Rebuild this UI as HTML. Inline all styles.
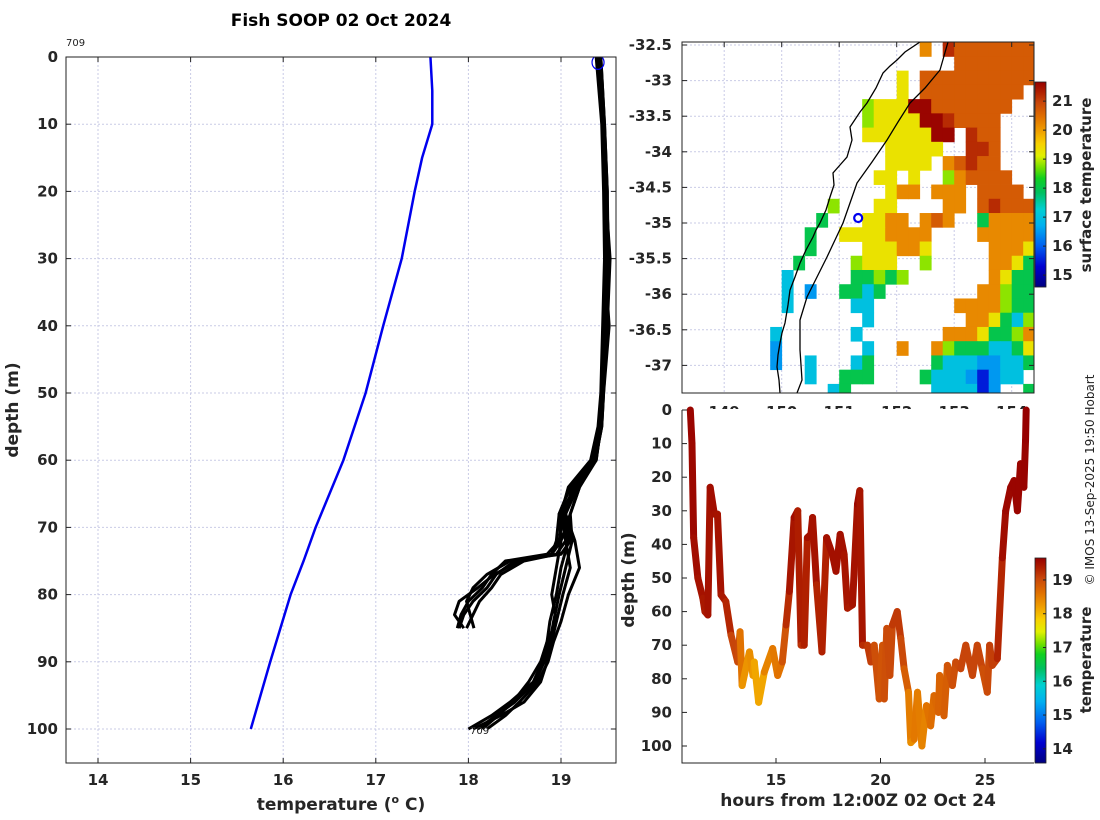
<!DOCTYPE html>
<html><head><meta charset="utf-8">
<style>
html,body{margin:0;padding:0;background:#fff;}
svg{display:block;font-family:"DejaVu Sans","Liberation Sans",sans-serif;}
.tk{font-size:15px;font-weight:bold;fill:#262626;}
.lb{font-size:17px;font-weight:bold;fill:#262626;}
</style></head>
<body>
<svg id="fig" width="1100" height="820" viewBox="0 0 1100 820" xmlns="http://www.w3.org/2000/svg">
<defs>
<clipPath id="clipL"><rect x="66" y="57" width="550" height="706"/></clipPath>
<clipPath id="clipM"><rect x="682" y="42" width="352" height="351"/></clipPath>
<clipPath id="clipB"><rect x="682" y="404" width="352" height="359"/></clipPath>
</defs>
<text x="341" y="26" text-anchor="middle" font-size="17" font-weight="bold" fill="#000">Fish SOOP 02 Oct 2024</text>
<g id="left"></g>
<g id="map"></g>
<g id="bottom"></g>
<text transform="translate(1094,480) rotate(-90)" text-anchor="middle" font-size="12" fill="#222">© IMOS 13-Sep-2025 19:50 Hobart</text>
</svg>
<script>
// ---------- LEFT PROFILE DATA ----------
const profTicksX = [14,15,16,17,18,19];
const profTicksY = [0,10,20,30,40,50,60,70,80,90,100];
const climDepth = [0,5,10,15,20,30,40,50,60,70,75,80,90,100];
const climTemp  = [17.59,17.61,17.61,17.5,17.42,17.28,17.08,16.89,16.65,16.35,16.22,16.08,15.86,15.65];
const depthsA = [0,10,20,30,40,50,55,60,64,68,72,74,75,77,79,81,83,85];
const profA1 = [19.40,19.45,19.47,19.48,19.46,19.44,19.42,19.35,19.10,18.98,18.95,18.90,18.50,18.30,18.20,18.05,17.95,17.90];
const profA2 = [19.42,19.46,19.48,19.50,19.47,19.45,19.43,19.38,19.15,19.02,18.98,18.85,18.40,18.25,18.15,18.00,17.92,17.88];
const profA3 = [19.38,19.44,19.46,19.47,19.45,19.43,19.40,19.32,19.08,19.00,19.05,18.95,18.60,18.35,18.25,18.12,18.05,17.98];
const profA4 = [19.41,19.46,19.49,19.52,19.50,19.46,19.44,19.37,19.20,19.10,19.00,18.90,18.55,18.28,18.10,17.90,17.85,17.95];
const profA5 = [19.43,19.47,19.50,19.49,19.46,19.44,19.41,19.33,19.12,19.05,19.10,19.00,18.45,18.20,18.05,17.98,18.02,18.06];
const depthsB = [0,10,20,30,40,50,55,60,64,68,72,76,80,84,87,90,93,96,98,100];
const profB1 = [19.40,19.45,19.47,19.48,19.46,19.44,19.42,19.36,19.15,19.00,19.05,19.10,19.02,18.95,18.90,18.85,18.78,18.60,18.35,18.05];
const profB2 = [19.42,19.46,19.48,19.53,19.50,19.45,19.43,19.38,19.20,19.10,19.12,19.05,18.98,18.92,18.88,18.82,18.72,18.50,18.30,18.10];
const profB3 = [19.39,19.45,19.47,19.50,19.48,19.44,19.41,19.34,19.10,18.98,19.00,18.95,18.90,18.95,18.85,18.80,18.70,18.45,18.25,18.00];
const profB4 = [19.41,19.46,19.49,19.47,19.52,19.46,19.44,19.37,19.18,19.05,19.15,19.20,19.08,19.00,18.92,18.86,18.75,18.55,18.40,18.20];
const profB5 = [19.43,19.47,19.50,19.51,19.49,19.45,19.42,19.35,19.14,19.02,19.08,19.00,18.95,18.88,18.85,18.78,18.65,18.48,18.32,18.15];
const startMarker = [19.40, 0.8];

// ---------- MAP DATA ----------
const mapLatTicks = [-32.5,-33,-33.5,-34,-34.5,-35,-35.5,-36,-36.5,-37];
const mapLonTicks = [149,150,151,152,153,154];
const sstBarTicks = [15,16,17,18,19,20,21];
const sstCodes = {a:15.5,b:16.5,c:17.0,d:18.0,e:18.8,f:19.3,g:20.2,h:20.7,i:21.2,j:21.6};
const sstRows = [
".............g.ihhhhhhh",
"................hhhhhhh",
"...........f.hhhhhhhhhh",
"...........f.hhhhhhhhh.",
"........efffjjhhhhhhh..",
"........effffjjihhhh...",
"........ffffffjj.ihh...",
"..........fffff..iih...",
"..........ffff.ghihh...",
".........ff.f..eghhhh..",
"..........fgg.ggg.hhhh.",
".....e...ff....gg.hihhh",
"....d...ffgg.ghg..dgggg",
"...d..ffffgggg....ggggg",
"...d....fffggf.....gggf",
"..d....efff..e.....ggfd",
".c.....ddede.......gfdd",
".c.b..ddcd........ggedd",
".c.....cc.......ggggedd",
"........c........ggfdce",
"c......c.......gggfddeg",
"b.......c..g..gedddccdf",
"b..c...cd.....dcccbbccd",
"...c..ddd....dcccbabcc.",
".....cd.......ccccab..d"
];
const shipPos = [151.33, -34.93];

// ---------- BOTTOM DATA ----------
const hourTicks = [15,20,25];
const depthTicksB = [0,10,20,30,40,50,60,70,80,90,100];
const tempBarTicks = [14,15,16,17,18,19];
const trackHours = [10.9,10.98,11.06,11.26,11.5,11.6,11.74,11.85,12.05,12.2,12.37,12.6,12.85,13.17,13.28,13.38,13.73,13.9,13.96,14.17,14.44,14.84,15.08,15.3,15.48,15.64,15.87,16.04,16.2,16.35,16.5,16.67,16.75,16.94,17.2,17.42,17.7,17.87,18.07,18.26,18.42,18.66,18.9,19.01,19.14,19.38,19.54,19.7,19.94,20.1,20.18,20.3,20.45,20.57,20.8,20.97,21.13,21.34,21.45,21.61,21.77,21.98,22.2,22.4,22.56,22.77,22.83,23.04,23.2,23.44,23.6,23.84,24.08,24.4,24.63,24.87,25.11,25.22,25.35,25.59,25.83,25.99,26.23,26.39,26.55,26.7,26.86,26.94,26.97];
const trackDepths = [0,10,38,50,56,60,61,23,31,31,55,57,67,75,66,82,72,79,75,87,78,71,79,75,64,54,32,30,70,70,38,37,32,52,72,38,43,48,37,43,59,58,28,24,70,70,75,70,86,70,86,65,79,64,60,68,77,84,99,98,84,100,88,94,85,90,79,91,76,82,75,77,70,79,70,77,84,70,76,74,44,30,23,21,30,16,23,9,0];
const trackTemps = [19.6,19.6,19.55,19.5,19.45,19.4,19.4,19.55,19.5,19.5,19.45,19.4,19.2,18.9,19.1,18.1,18.5,18.2,18.3,18.0,18.3,18.6,18.5,18.7,19.1,19.4,19.5,19.55,19.2,19.2,19.5,19.5,19.5,19.45,19.2,19.5,19.5,19.5,19.5,19.5,19.4,19.4,19.55,19.6,19.3,19.2,19.1,19.1,18.8,19.0,18.8,19.1,18.9,19.1,19.2,19.1,18.9,18.7,18.3,18.4,18.7,18.3,18.6,18.6,18.7,18.7,18.8,18.7,18.9,18.9,19.0,19.0,19.1,19.0,19.1,19.0,18.9,19.1,19.1,19.1,19.5,19.55,19.6,19.6,19.6,19.6,19.6,19.65,19.65];

// ---------- helpers ----------
const NS = "http://www.w3.org/2000/svg";
function mk(parent, tag, attrs, text){
  const e = document.createElementNS(NS, tag);
  for (const k in attrs) e.setAttribute(k, attrs[k]);
  if (text !== undefined) e.textContent = text;
  parent.appendChild(e);
  return e;
}
const stops = [[0,[0,0,128]],[0.1,[0,0,208]],[0.2,[0,96,240]],[0.3,[0,176,240]],[0.38,[0,208,208]],[0.46,[0,192,96]],[0.53,[16,208,32]],[0.58,[112,224,0]],[0.64,[224,240,0]],[0.7,[248,208,0]],[0.76,[240,160,0]],[0.83,[224,112,0]],[0.9,[200,70,10]],[0.95,[176,32,0]],[1,[150,0,0]]];
function cmap(f){
  f = Math.max(0, Math.min(1, f));
  for (let i=1;i<stops.length;i++){
    if (f <= stops[i][0]){
      const a=stops[i-1], b=stops[i], t=(f-a[0])/(b[0]-a[0]);
      const c=a[1].map((v,j)=>Math.round(v+(b[1][j]-v)*t));
      return `rgb(${c[0]},${c[1]},${c[2]})`;
    }
  }
  return "rgb(150,0,0)";
}
const gridStroke = "#c9cbe6";

// ================= LEFT =================
(function(){
  const g = document.getElementById('left');
  const X0=66, X1=616, Y0=57, Y1=763;
  const xT = t => 98 + (t-14)*92.6;
  const yD = d => 57 + d*6.72;
  const grid = mk(g,'g',{});
  
  
  profTicksX.forEach(t=>{
    const l = mk(grid,'line',{x1:xT(t),x2:xT(t),y1:Y0,y2:Y1,stroke:gridStroke,'stroke-width':1,'stroke-dasharray':'2,2'});
    
    
    const tk = mk(g,'text',{x:xT(t),y:785,'text-anchor':'middle',class:'tk'},String(t));
    
    
    mk(g,'line',{x1:xT(t),x2:xT(t),y1:Y1,y2:Y1-5,stroke:'#222'});
    mk(g,'line',{x1:xT(t),x2:xT(t),y1:Y0,y2:Y0+5,stroke:'#222'});
  });
  profTicksY.forEach(d=>{
    const l = mk(grid,'line',{x1:X0,x2:X1,y1:yD(d),y2:yD(d),stroke:gridStroke,'stroke-width':1,'stroke-dasharray':'2,2'});
    
    
    const tk = mk(g,'text',{x:58,y:yD(d)+5,'text-anchor':'end',class:'tk'},String(d));
    
    
    mk(g,'line',{x1:X0,x2:X0+5,y1:yD(d),y2:yD(d),stroke:'#222'});
    mk(g,'line',{x1:X1,x2:X1-5,y1:yD(d),y2:yD(d),stroke:'#222'});
  });
  const plot = mk(g,'g',{'clip-path':'url(#clipL)'});
  const clim = mk(plot,'polyline',{points:climDepth.map((d,i)=>xT(climTemp[i])+','+yD(d)).join(' '),fill:'none',stroke:'#0000ee','stroke-width':2.5});
  
  
  const drawProf = (temps, depths)=>{
    const p = mk(plot,'polyline',{points:depths.map((d,i)=>xT(temps[i])+','+yD(d)).join(' '),fill:'none',stroke:'#000','stroke-width':3,'stroke-linejoin':'round'});
    
    
  };
  [profA1,profA2,profA3,profA4,profA5].forEach(p=>drawProf(p,depthsA));
  [profB1,profB2,profB3,profB4,profB5].forEach(p=>drawProf(p,depthsB));
  const c = mk(plot,'ellipse',{cx:xT(startMarker[0]),cy:yD(startMarker[1]),rx:6,ry:7,fill:'none',stroke:'#0000ee','stroke-width':1.2});
  
  
  const box = mk(g,'rect',{x:X0,y:Y0,width:X1-X0,height:Y1-Y0,fill:'none',stroke:'#222','stroke-width':1});
  
  
  const a = mk(g,'text',{x:66,y:46,'font-size':10,fill:'#222'},'709');
  
  
  const b = mk(g,'text',{x:470,y:734,'font-size':10,fill:'#222'},'709');
  
  
  const xl = mk(g,'text',{x:341,y:810,'text-anchor':'middle',class:'lb'});
  xl.innerHTML = 'temperature (<tspan font-size="11" dy="-7">o</tspan><tspan dy="7"> C)</tspan>';
  
  
  const yl = mk(g,'text',{transform:'translate(18,410) rotate(-90)','text-anchor':'middle',class:'lb'},'depth (m)');
  
  
})();

// ================= MAP =================
(function(){
  const g = document.getElementById('map');
  const X0=682, X1=1034, Y0=42, Y1=393;
  const xL = l => 781.7 + (l-150)*57.5;
  const yA = a => 45 + (-32.5-a)*71.2;
  const vmin=14.59, vmax=21.66;
  mapLonTicks.forEach(l=>{
    const t = mk(g,'text',{x:xL(l),y:417,'text-anchor':'middle',class:'tk'},String(l));
    
    
  });
  const plot = mk(g,'g',{'clip-path':'url(#clipM)'});
  mapLonTicks.forEach(l=>{
    const ln = mk(plot,'line',{x1:xL(l),x2:xL(l),y1:Y0,y2:Y1,stroke:gridStroke,'stroke-dasharray':'2,2'});
    
    
  });
  mapLatTicks.forEach(a=>{
    const ln = mk(plot,'line',{x1:X0,x2:X1,y1:yA(a),y2:yA(a),stroke:gridStroke,'stroke-dasharray':'2,2'});
    
    
    const t = mk(g,'text',{x:672,y:yA(a)+5,'text-anchor':'end',class:'tk'},String(a));
    
    
    mk(g,'line',{x1:X0,x2:X0+5,y1:yA(a),y2:yA(a),stroke:'#222'});
    mk(g,'line',{x1:X1,x2:X1-5,y1:yA(a),y2:yA(a),stroke:'#222'});
  });
  const cells = mk(plot,'g',{});
  
  
  sstRows.forEach((row,r)=>{
    const latTop = -32.46 - 0.2*r;
    for (let i=0;i<row.length;i++){
      const ch=row[i];
      if (!(ch in sstCodes)) continue;
      const lon0 = 149.8 + 0.2*i;
      const x=xL(lon0), y=yA(latTop);
      const cell = mk(cells,'rect',{x:x,y:y,width:xL(lon0+0.2)-x+0.4,height:yA(latTop-0.2)-y+0.4,fill:cmap((sstCodes[ch]-vmin)/(vmax-vmin))});
      
      
    }
  });
  const coast = mk(plot,'polyline',{points:'920,42 905,52 897,60 890,66 883,73 876,88 867,103 860,112 850,127 852,140 847,157 840,165 833,173 834,185 830,197 826,210 820,223 816,230 813,237 806,250 800,263 795,277 790,290 788,305 785,323 782,333 780,343 778,355 777,367 779,380 780,393',fill:'none',stroke:'#000','stroke-width':1.3});
  
  
  const shelf = mk(plot,'polyline',{points:'948,42 944,56 940,70 925,88 910,103 898,122 887,140 872,162 857,183 850,203 843,223 835,240 827,257 817,277 807,297 800,320 800,350 802,380 797,393',fill:'none',stroke:'#000','stroke-width':1.3});
  
  
  const ship = mk(plot,'circle',{cx:xL(shipPos[0]),cy:yA(shipPos[1]),r:4,fill:'none',stroke:'#0000ee','stroke-width':2.2});
  
  
  mapLonTicks.forEach(l=>{
    mk(g,'line',{x1:xL(l),x2:xL(l),y1:Y0,y2:Y0+5,stroke:'#222'});
  });
  const box = mk(g,'rect',{x:X0,y:Y0,width:X1-X0,height:Y1-Y0,fill:'none',stroke:'#222'});
  
  
  const cbY0=82, cbY1=287, cbX=1035, cbW=11;
  const cb = mk(g,'g',{});
  
  
  for (let y=cbY0;y<cbY1;y++){
    const v = vmax - (y-cbY0+0.5)/(cbY1-cbY0)*(vmax-vmin);
    mk(cb,'rect',{x:cbX,y:y,width:cbW,height:1.2,fill:cmap((v-vmin)/(vmax-vmin))});
  }
  mk(cb,'rect',{x:cbX,y:cbY0,width:cbW,height:cbY1-cbY0,fill:'none',stroke:'#222','stroke-width':0.8});
  sstBarTicks.forEach(v=>{
    const y = cbY0 + (vmax-v)/(vmax-vmin)*(cbY1-cbY0);
    mk(cb,'line',{x1:cbX+cbW,x2:cbX+cbW-3,y1:y,y2:y,stroke:'#222'});
    const t = mk(cb,'text',{x:1052,y:y+5,class:'tk'},String(v));
    
    
  });
  const cl = mk(g,'text',{transform:'translate(1091,185) rotate(-90)','text-anchor':'middle',class:'tk'},'surface temperature');
  
  
})();

// ================= BOTTOM =================
(function(){
  const g = document.getElementById('bottom');
  const X0=682, X1=1034, Y0=410, Y1=763;
  const xH = h => 776 + (h-15)*20.9;
  const yB = d => 410 + d*3.36;
  const vmin=13.58, vmax=19.65;
  mk(g,'rect',{x:X0,y:409,width:X1-X0,height:Y1-409,fill:'#fff'});
  const plot = mk(g,'g',{'clip-path':'url(#clipB)'});
  const tr = mk(plot,'g',{});
  
  
  for (let i=1;i<trackHours.length;i++){
    const s = mk(tr,'line',{x1:xH(trackHours[i-1]),y1:yB(trackDepths[i-1]),x2:xH(trackHours[i]),y2:yB(trackDepths[i]),stroke:cmap(((trackTemps[i-1]+trackTemps[i])/2-vmin)/(vmax-vmin)),'stroke-width':7,'stroke-linecap':'round'});
    
    
  }
  hourTicks.forEach(h=>{
    mk(g,'line',{x1:xH(h),x2:xH(h),y1:Y1,y2:Y1-5,stroke:'#222'});
    const t = mk(g,'text',{x:xH(h),y:785,'text-anchor':'middle',class:'tk'},String(h));
    
    
  });
  depthTicksB.forEach(d=>{
    mk(g,'line',{x1:X0,x2:X0+5,y1:yB(d),y2:yB(d),stroke:'#222'});
    const t = mk(g,'text',{x:672,y:yB(d)+5,'text-anchor':'end',class:'tk'},String(d));
    
    
  });
  mk(g,'polyline',{points:`${X0},${Y0} ${X0},${Y1} ${X1},${Y1}`,fill:'none',stroke:'#222'});
  const xl = mk(g,'text',{x:858,y:806,'text-anchor':'middle',class:'lb'},'hours from 12:00Z 02 Oct 24');
  
  
  const yl = mk(g,'text',{transform:'translate(634,580) rotate(-90)','text-anchor':'middle',class:'lb'},'depth (m)');
  
  
  const cbY0=558, cbY1=763, cbX=1035, cbW=11;
  const cb = mk(g,'g',{});
  
  
  for (let y=cbY0;y<cbY1;y++){
    const v = vmax - (y-cbY0+0.5)/(cbY1-cbY0)*(vmax-vmin);
    mk(cb,'rect',{x:cbX,y:y,width:cbW,height:1.2,fill:cmap((v-vmin)/(vmax-vmin))});
  }
  mk(cb,'rect',{x:cbX,y:cbY0,width:cbW,height:cbY1-cbY0,fill:'none',stroke:'#222','stroke-width':0.8});
  tempBarTicks.forEach(v=>{
    const y = cbY0 + (vmax-v)/(vmax-vmin)*(cbY1-cbY0);
    mk(cb,'line',{x1:cbX+cbW,x2:cbX+cbW-3,y1:y,y2:y,stroke:'#222'});
    const t = mk(cb,'text',{x:1052,y:y+5,class:'tk'},String(v));
    
    
  });
  const cl = mk(g,'text',{transform:'translate(1091,660) rotate(-90)','text-anchor':'middle',class:'tk'},'temperature');
  
  
})();
</script>
</body></html>
